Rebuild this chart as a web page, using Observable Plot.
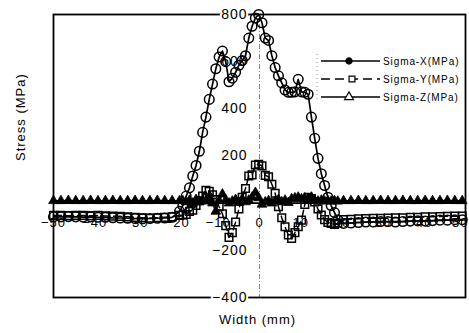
<!DOCTYPE html>
<html><head><meta charset="utf-8">
<script src="https://cdn.jsdelivr.net/npm/d3@7"></script>
<script src="https://cdn.jsdelivr.net/npm/@observablehq/plot@0.6"></script>
<style>
body{margin:0;background:#fff;}
#wrap{position:relative;width:469px;height:333px;font-family:"Liberation Sans",Arial,sans-serif;}
#wrap svg{position:absolute;left:0;top:0;}
</style></head><body><div id="wrap"></div>
<script>
// Measurement positions (mm)
const widthMm = [
  -50, -48.2, -46.4, -44.6, -42.8, -41.0, -39.2, -37.4, -35.6, -33.8, -32.0, -30.2, -28.4, -26.6, -24.8, -23.0, -21.2, -19.4,
  -18.6, -17.8, -17.0, -16.2, -15.4, -14.6, -13.8, -13.0, -12.2, -11.4, -10.6, -9.8, -9.0, -8.2, -7.4, -6.6, -5.8, -5.0, -4.2, -3.4, -2.6, -1.8, -1.0, -0.2,
  0.6, 1.4, 2.2, 3.0, 3.8, 4.6, 5.4, 6.2, 7.0, 7.8, 8.6, 9.4, 10.2, 11.0, 11.8, 12.6, 13.4, 14.2, 15.0, 15.8, 16.6, 17.4, 18.2, 19.0,
  20.4, 22.2, 24.0, 25.8, 27.6, 29.4, 31.2, 33.0, 34.8, 36.6, 38.4, 40.2, 42.0, 43.8, 45.6, 47.4, 49.2
];
// Sigma-X (MPa)
const sigmaX = [
  -58, -58, -57, -58, -59, -58, -60, -60, -62, -63, -64, -65, -66, -65, -64, -63, -60, -35,
  -10, 30, 65, 115, 160, 220, 300, 365, 440, 505, 570, 620, 645, 600, 515, 530, 555, 585, 605, 625, 700, 750, 785, 800,
  765, 700, 690, 625, 575, 540, 510, 480, 470, 470, 472, 525, 472, 470, 462, 365, 275, 190, 125, 75, 25, -10, -40, -70,
  -86, -84, -82, -80, -80, -78, -78, -80, -78, -76, -75, -76, -74, -72, -72, -70, -70
];
// Sigma-Y (MPa)
const sigmaY = [
  -52, -52, -53, -52, -52, -53, -52, -54, -55, -56, -58, -60, -62, -64, -62, -60, -58, -52,
  -50, -48, -35, -30, -10, 10, 30, 55, 50, 35, 15, -15, -45, -95, -145, -125, -80, -25, 25, 62, 115, 120, 162, 165,
  158, 118, 112, 80, 42, -15, -62, -100, -135, -150, -125, -100, -72, -5, 25, 20, 5, -25, -50, -70, -82, -86, -90, -85,
  -70, -68, -66, -65, -64, -64, -63, -62, -62, -60, -60, -58, -58, -57, -56, -55, -55
];
// Sigma-Z (MPa)
const sigmaZ = [
  10, 10, 11, 10, 10, 11, 10, 10, 11, 10, 10, 11, 10, 10, 11, 10, 10, 10,
  10, 5, 12, 0, 15, 5, 15, 8, 20, 0, -35, 10, 38, 12, 0, 8, 15, 2, 18, 5, 12, 25, 45, 22,
  -5, 5, 10, 0, 8, 15, 5, 12, 2, 18, 22, 25, 18, 22, 12, 25, 12, 8, 12, 8, 10, 8, 10, 8,
  10, 10, 11, 10, 10, 11, 10, 10, 11, 10, 10, 11, 10, 10, 11, 10, 10
];
const xTicks = [-50, -40, -30, -20, -10, 0, 10, 20, 30, 40, 50];
const yTicks = [800, 600, 400, 200, -200, -400];
const seriesNames = ["Sigma-X(MPa)", "Sigma-Y(MPa)", "Sigma-Z(MPa)"];
const yLabel = "Stress (MPa)";
const xLabel = "Width (mm)";

const rows = widthMm.map((w, i) => ({w, sx: sigmaX[i], sy: sigmaY[i], sz: sigmaZ[i]}));
const fmt = v => v < 0 ? "\u2212" + Math.abs(v) : String(v);
const FONT = "'Liberation Sans', Arial, sans-serif";
const lastTick = xTicks[xTicks.length - 1];

const chart = Plot.plot({
  width: 469, height: 333,
  marginLeft: 53, marginRight: 4, marginTop: 14, marginBottom: 36,
  x: {domain: [-50, 50], axis: null},
  y: {domain: [-400, 800], axis: null},
  style: {fontFamily: FONT, background: "white", color: "black"},
  marks: [
    Plot.ruleY([0], {stroke: "black", strokeWidth: 1.8}),
    Plot.ruleX([0], {stroke: "#888", strokeWidth: 1, strokeDasharray: "5,2,1,2"}),
    Plot.frame({stroke: "black", strokeWidth: 1.8}),
    Plot.text(yTicks, {x: 0, y: d => d, text: fmt, textAnchor: "end", dx: -12, fontSize: 14,
      fill: "black", stroke: "white", strokeWidth: 4}),
    Plot.text(xTicks.filter(d => d !== lastTick), {x: d => d, y: 0, text: fmt, dy: 20, fontSize: 13, fill: "black"}),
    Plot.text([lastTick], {x: d => d, y: 0, text: fmt, dy: 20, dx: 3, textAnchor: "end", fontSize: 13, fill: "black"}),
    Plot.line(rows, {x: "w", y: "sz", stroke: "black", strokeWidth: 1.5}),
    Plot.line(rows, {x: "w", y: "sy", stroke: "black", strokeWidth: 1.5, strokeDasharray: "8,4"}),
    Plot.line(rows, {x: "w", y: "sx", stroke: "black", strokeWidth: 1.7}),
    Plot.dot(rows, {x: "w", y: "sz", symbol: "triangle", r: 3.6, fill: "black", stroke: "black", strokeWidth: 0.8}),
    Plot.dot(rows, {x: "w", y: "sy", symbol: "square", r: 4.3, fill: "none", stroke: "black", strokeWidth: 1.5}),
    Plot.dot(rows, {x: "w", y: "sx", symbol: "circle", r: 4.8, fill: "none", stroke: "black", strokeWidth: 1.5}),
    Plot.text([yLabel], {frameAnchor: "left", dx: -33, dy: 5, rotate: -90, fontSize: 13, fill: "black"}),
    Plot.text([xLabel], {frameAnchor: "bottom", dy: 26, dx: -2, fontSize: 13, fill: "black"})
  ]
});
chart.querySelectorAll("text").forEach(t => t.style.letterSpacing = "1px");
const wrap = document.getElementById("wrap");
wrap.appendChild(chart);

// Legend overlay
const lg = d3.select(wrap).append("svg")
  .attr("width", 469).attr("height", 333)
  .style("pointer-events", "none");
lg.append("line").attr("x1", 317).attr("x2", 317).attr("y1", 54).attr("y2", 102)
  .attr("stroke", "#999").attr("stroke-dasharray", "1,3");
const ly = [61, 79, 97];
const symbols = [d3.symbolCircle, d3.symbolSquare, d3.symbolTriangle];
seriesNames.forEach((name, i) => {
  const g = lg.append("g");
  g.append("line").attr("x1", 321).attr("x2", 380).attr("y1", ly[i]).attr("y2", ly[i])
    .attr("stroke", "black").attr("stroke-width", 1.4)
    .attr("stroke-dasharray", i === 1 ? "9,5" : null);
  g.append("path").attr("d", d3.symbol(symbols[i], i === 0 ? 30 : 34)())
    .attr("transform", `translate(${i === 1 ? 352 : 349},${ly[i]})`)
    .attr("fill", i === 0 ? "black" : "white").attr("stroke", "black").attr("stroke-width", 1.2);
  g.append("text").attr("x", 383).attr("y", ly[i]).attr("dy", "0.35em")
    .attr("font-size", 10).attr("font-family", FONT).attr("letter-spacing", "0.9px")
    .attr("fill", "black").text(name);
});
</script></body></html>
